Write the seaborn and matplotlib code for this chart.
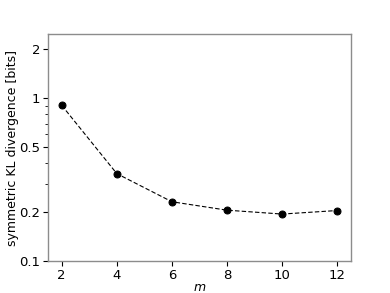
import numpy as np
import pandas as pd
import seaborn as sns
import matplotlib.pyplot as plt
import matplotlib.ticker as mt

sns.set_theme(style="ticks")
plt.rcParams['font.family'] = ['DejaVu Sans']
plt.rcParams['text.color'] = 'black'
plt.rcParams['axes.labelcolor'] = 'black'
plt.rcParams['xtick.color'] = 'black'
plt.rcParams['ytick.color'] = 'black'

# values
m_vals = [2, 4, 6, 8, 10, 12]
kl_vals = [0.905, 0.345, 0.232, 0.206, 0.195, 0.205]
y_ticks = [0.1, 0.2, 0.5, 1, 2]
y_labels = ["0.1", "0.2", "0.5", "1", "2"]

df = pd.DataFrame({"m": m_vals, "kl": kl_vals})

f, ax = plt.subplots(figsize=(3.9, 2.93), dpi=100)
f.subplots_adjust(left=0.123, right=0.9, top=0.884, bottom=0.108)

sns.lineplot(x="m", y="kl", data=df, ax=ax, color="black",
             linestyle="--", linewidth=0.8, marker="o", markersize=5,
             markeredgecolor="black", dashes=False)
ax.lines[0].set_linestyle((0, (4, 2)))

ax.set_yscale("log")
ax.set_ylim(0.1, 2.48)
ax.set_xlim(1.5, 12.5)
ax.set_xticks(m_vals)
ax.yaxis.set_major_locator(mt.FixedLocator(y_ticks))
ax.yaxis.set_major_formatter(mt.FixedFormatter(y_labels))
ax.yaxis.set_minor_locator(mt.LogLocator(subs=np.arange(2, 10)))
ax.yaxis.set_minor_formatter(mt.NullFormatter())

ax.set_xlabel("$m$", fontsize=9, labelpad=-1)
ax.set_ylabel("symmetric KL divergence [bits]", fontsize=9, labelpad=0)
ax.tick_params(axis="both", which="major", labelsize=9.5, length=3.5,
               width=0.8, pad=2)
ax.tick_params(axis="y", which="minor", length=2, width=0.6)
for s in ax.spines.values():
    s.set_color("#8c8c8c")
    s.set_linewidth(1.0)

f.savefig("out.png", dpi=100)
